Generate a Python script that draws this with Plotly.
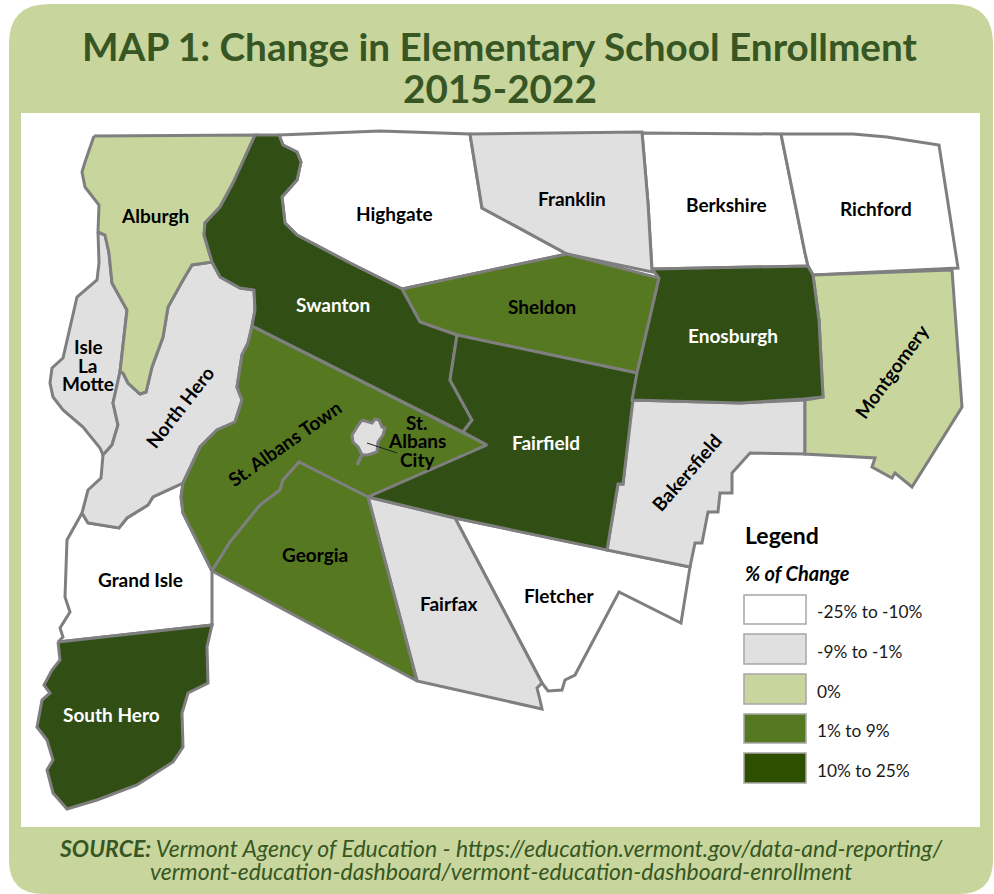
import plotly.graph_objects as go

# Town outlines (x, y)
ALBURGH = [(94,136),(255,135),(233,183),(220,207),(205,223),(204,235),(212,262),(192,265),(183,280),(168,307),(163,337),(152,367),(146,392),(140,394),(128,383),(123,373),(120,372),(127,310),(112,283),(109,253),(105,235),(98,232),(99,205),(85,187),(82,172),(85,162)]
ISLE_LA_MOTTE = [(98,232),(105,235),(109,253),(112,283),(127,310),(120,372),(113,403),(118,425),(112,445),(103,455),(100,448),(83,427),(63,410),(53,397),(50,383),(52,368),(63,358),(70,327),(77,297),(97,280),(99,263)]
NORTH_HERO = [(212,262),(220,277),(240,288),(254,290),(255,310),(252,326),(248,343),(242,355),(237,387),(242,400),(235,422),(217,430),(200,447),(185,480),(183,483),(153,497),(148,505),(127,518),(119,528),(88,523),(82,513),(88,490),(101,478),(103,455),(112,445),(118,425),(113,403),(120,372),(123,373),(128,383),(140,394),(146,392),(152,367),(163,337),(168,307),(183,280),(192,265)]
GRAND_ISLE = [(82,513),(67,540),(65,597),(70,612),(60,628),(63,637),(58,642),(212,625),(212,571),(183,513),(181,497),(183,483),(153,497),(148,505),(127,518),(119,528),(88,523)]
SOUTH_HERO = [(58,642),(212,625),(207,647),(208,683),(188,693),(182,713),(183,747),(173,762),(137,785),(97,800),(67,809),(53,793),(47,770),(53,760),(47,740),(37,727),(42,700),(50,693),(44,685),(52,670),(60,660)]
ST_ALBANS_TOWN = [(252,326),(487,445),(368,497),(299,462),(283,480),(280,490),(260,505),(230,542),(212,571),(183,513),(181,497),(183,483),(200,447),(217,430),(235,422),(242,400),(237,387),(242,355),(248,343)]
GEORGIA = [(212,571),(230,542),(260,505),(280,490),(283,480),(299,462),(368,497),(417,681)]
FAIRFAX = [(368,497),(455,518),(542,683),(537,688),(540,700),(542,709),(417,681)]
FLETCHER = [(455,518),(607,550),(690,567),(681,623),(619,592),(575,675),(565,680),(562,690),(548,691),(542,683)]
FAIRFIELD = [(368,497),(487,445),(463,432),(472,420),(450,380),(457,335),(637,373),(633,400),(623,484),(618,484),(607,550),(455,518)]
SWANTON = [(255,135),(279,135),(283,145),(297,152),(301,162),(297,180),(282,197),(285,223),(297,235),(350,263),(402,289),(420,322),(457,335),(450,380),(472,420),(463,432),(252,326),(255,310),(254,290),(240,288),(220,277),(212,262),(204,235),(205,223),(220,207),(233,183)]
HIGHGATE = [(279,135),(380,131),(470,134),(482,208),(567,254),(402,289),(350,263),(297,235),(285,223),(282,197),(297,180),(301,162),(297,152),(283,145)]
FRANKLIN = [(470,134),(642,132),(648,203),(652,272),(567,254),(482,208)]
SHELDON = [(402,289),(567,254),(659,278),(637,373),(457,335),(420,322)]
BERKSHIRE = [(642,133),(781,134),(805,253),(808,266),(652,269),(648,203)]
RICHFORD = [(781,134),(853,134),(887,137),(939,145),(948,203),(958,268),(813,275),(808,266),(805,253)]
ENOSBURGH = [(652,269),(808,266),(813,275),(819,320),(823,397),(803,399),(740,403),(632,400),(637,373),(659,278)]
MONTGOMERY = [(813,275),(952,270),(962,407),(912,487),(895,473),(892,478),(872,467),(875,458),(805,454),(805,400),(823,397),(819,320)]
BAKERSFIELD = [(632,400),(740,403),(805,400),(805,454),(750,453),(732,473),(732,493),(720,493),(718,512),(708,512),(702,543),(695,543),(690,567),(607,550),(618,484),(623,484)]
ST_ALBANS_CITY = [(362,420),(372,423),(375,419),(379,420),(382,427),(385,428),(383,435),(378,442),(377,452),(368,455),(362,455),(358,447),(353,442),(352,435),(357,427)]
CITY_TAIL = [(362,455),(357,465)]
CITY_LEADER = [(367,443),(397,453)]

# Legend classes
CLASS_LABELS = ["-25% to -10%", "-9% to -1%", "0%", "1% to 9%", "10% to 25%"]
CLASS_COLORS = ["#FFFFFF", "#E0E0E0", "#C8D69D", "#557820", "#2F4F00"]
SWATCH_TOPS = [595, 634, 674, 714, 753]
SWATCH_BOTTOMS = [624, 664, 704, 743, 783]
FILL_10_25 = "#314F15"

# name, outline, class index
TOWNS = [
    ("Highgate", HIGHGATE, 0), ("Grand Isle", GRAND_ISLE, 0), ("Fletcher", FLETCHER, 0),
    ("Berkshire", BERKSHIRE, 0), ("Richford", RICHFORD, 0),
    ("Isle La Motte", ISLE_LA_MOTTE, 1), ("North Hero", NORTH_HERO, 1), ("Fairfax", FAIRFAX, 1),
    ("Franklin", FRANKLIN, 1), ("Bakersfield", BAKERSFIELD, 1),
    ("Alburgh", ALBURGH, 2), ("Montgomery", MONTGOMERY, 2),
    ("St. Albans Town", ST_ALBANS_TOWN, 3), ("Georgia", GEORGIA, 3), ("Sheldon", SHELDON, 3),
    ("Swanton", SWANTON, 4), ("Fairfield", FAIRFIELD, 4), ("Enosburgh", ENOSBURGH, 4), ("South Hero", SOUTH_HERO, 4),
    ("St. Albans City", ST_ALBANS_CITY, 1),
]

# text, x, y, angle, colour
LABELS = [
    ("Alburgh",155,215,0,"black"),("Highgate",394,213,0,"black"),("Franklin",572,198,0,"black"),
    ("Berkshire",726,204,0,"black"),("Richford",876,208,0,"black"),("Swanton",333,304,0,"white"),
    ("Sheldon",542,306,0,"black"),("Enosburgh",733,335,0,"white"),("Isle",88,346,0,"black"),
    ("La",88,365,0,"black"),("Motte",88,383,0,"black"),("North Hero",179,407,-52,"black"),
    ("Montgomery",891,371,-54,"black"),("St. Albans Town",284,443,-35,"black"),("St.",417,422,0,"black"),
    ("Albans",417,440,0,"black"),("City",417,459,0,"black"),("Fairfield",546,442,0,"white"),
    ("Bakersfield",686,472,-49,"black"),("Georgia",315,554,0,"black"),("Grand Isle",140,579,0,"black"),
    ("Fairfax",448,603,0,"black"),("Fletcher",559,595,0,"black"),("South Hero",111,714,0,"white"),
]

TITLE_LINES = ["MAP 1: Change in Elementary School Enrollment", "2015-2022"]
SOURCE_LINES = ["<b>SOURCE:</b> Vermont Agency of Education - https://education.vermont.gov/data-and-reporting/",
                "vermont-education-dashboard/vermont-education-dashboard-enrollment"]

FONT = "Lato"
EDGE = "#7F7F7F"
PANEL = "#C8D69D"
DARK = "#375623"

fig = go.Figure()
for name, pts, cls in TOWNS:
    xs = [p[0] for p in pts] + [pts[0][0]]
    ys = [p[1] for p in pts] + [pts[0][1]]
    color = FILL_10_25 if cls == 4 else CLASS_COLORS[cls]
    fig.add_trace(go.Scatter(x=xs, y=ys, mode="lines", fill="toself", fillcolor=color, name=name,
                             line=dict(color=EDGE, width=3), hoverinfo="name", showlegend=False))
fig.add_trace(go.Scatter(x=[p[0] for p in CITY_TAIL], y=[p[1] for p in CITY_TAIL], mode="lines",
                         line=dict(color=EDGE, width=3.5), showlegend=False, hoverinfo="skip"))
fig.add_trace(go.Scatter(x=[p[0] for p in CITY_LEADER], y=[p[1] for p in CITY_LEADER], mode="lines",
                         line=dict(color="#222222", width=1), showlegend=False, hoverinfo="skip"))

shapes = [
    dict(type="path", layer="below", line_width=0, fillcolor=PANEL,
         path="M 9 44 Q 9 4 49 4 L 953 4 Q 993 4 993 44 L 993 860 Q 993 894 959 894 L 43 894 Q 9 894 9 860 Z"),
    dict(type="rect", layer="below", x0=21, x1=980, y0=113, y1=827, line_width=0, fillcolor="white"),
]
ann = []
def text(t, x, y, size, color="black", angle=0, anchor="center", family=FONT):
    ann.append(dict(text=t, x=x, y=y, xref="x", yref="y", showarrow=False, xanchor=anchor, yanchor="middle",
                    textangle=angle, font=dict(family=family, size=size, color=color)))

for t, x, y, a, c in LABELS:
    text(f"<b>{t}</b>", x, y, 19, c, a)
text(f"<b>{TITLE_LINES[0]}</b>", 500, 46, 38.7, DARK)
text(f"<b>{TITLE_LINES[1]}</b>", 500, 88, 38.7, DARK)
text(f"<i>{SOURCE_LINES[0]}</i>", 501, 848, 23, DARK)
text(f"<i>{SOURCE_LINES[1]}</i>", 501, 871, 23, DARK)
text("<b>Legend</b>", 743, 535, 23, "black", anchor="left")
text("<b><i>% of Change</i></b>", 743, 573, 20, "black", anchor="left")
for lab, col, y0, y1 in zip(CLASS_LABELS, CLASS_COLORS, SWATCH_TOPS, SWATCH_BOTTOMS):
    shapes.append(dict(type="rect", x0=744, x1=806, y0=y0, y1=y1, fillcolor=col, line=dict(color="#A6A6A6", width=1.5)))
    text(lab, 815, (y0 + y1) / 2 + 2, 17.3, "#1A1A1A", anchor="left")

fig.update_layout(width=994, height=894, margin=dict(l=0, r=0, t=0, b=0), paper_bgcolor="white", plot_bgcolor="rgba(0,0,0,0)",
                  xaxis=dict(range=[0, 994], visible=False, fixedrange=True),
                  yaxis=dict(range=[894, 0], visible=False, fixedrange=True),
                  shapes=shapes, annotations=ann, showlegend=False)
fig.write_html("out.html", config=dict(displayModeBar=False),
               post_script="document.body.style.margin='0';document.documentElement.style.overflow='hidden';")
